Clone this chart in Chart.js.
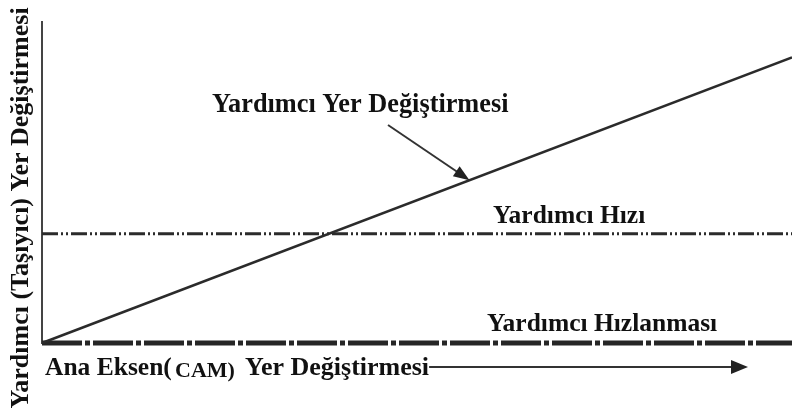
<!DOCTYPE html>
<html>
<head>
<meta charset="utf-8">
<script src="https://cdn.jsdelivr.net/npm/chart.js@4.4.0/dist/chart.umd.min.js"></script>
<style>
  body { margin: 0; background: #fff; }
  canvas { display: block; }
</style>
</head>
<body>
<canvas id="camChart" width="792" height="417"></canvas>
<script>
// cam position (x) and follower curves
const camPos = [0, 10];
const displacement = [0, 8.9];
const velocity = [3.4, 3.4];
const acceleration = [0, 0];

const labels = {
  disp: "Yardımcı Yer Değiştirmesi",
  vel: "Yardımcı Hızı",
  acc: "Yardımcı Hızlanması",
  yTitle: "Yardımcı (Taşıyıcı) Yer Değiştirmesi"
};

const pts = arr => camPos.map((x, i) => ({ x: x, y: arr[i] }));

const serif = size => "bold " + size + "px 'Liberation Serif', 'Times New Roman', serif";

// line with a filled head at (x2,y2)
function arrow(ctx, x1, y1, x2, y2, len, half) {
  const a = Math.atan2(y2 - y1, x2 - x1);
  const bx = x2 - len * Math.cos(a), by = y2 - len * Math.sin(a);
  ctx.beginPath();
  ctx.moveTo(x1, y1);
  ctx.lineTo(bx + 1 * Math.cos(a), by + 1 * Math.sin(a));
  ctx.stroke();
  ctx.beginPath();
  ctx.moveTo(x2, y2);
  ctx.lineTo(bx + half * Math.sin(a), by - half * Math.cos(a));
  ctx.lineTo(bx - half * Math.sin(a), by + half * Math.cos(a));
  ctx.closePath();
  ctx.fill();
}

/* texts + arrows */
const notes = {
  id: "notes",
  afterDraw(chart) {
    const ctx = chart.ctx;
    const xs = chart.scales.x, ys = chart.scales.y;
    ctx.save();
    ctx.fillStyle = "#111";
    ctx.strokeStyle = "#333";
    ctx.textBaseline = "alphabetic";
    ctx.textAlign = "left";

    ctx.font = serif(26.3);
    ctx.fillText(labels.disp, 212, 112);
    ctx.font = serif(25.5);
    ctx.fillText(labels.vel, 493, 223);
    ctx.fillText(labels.acc, 487, 331);

    // pointer to the displacement line
    const tx = 5.7;
    const tipX = xs.getPixelForValue(tx);
    const tipY = ys.getPixelForValue(displacement[0] + (displacement[1] - displacement[0]) * tx / camPos[1]);
    ctx.lineWidth = 2;
    ctx.fillStyle = "#222";
    arrow(ctx, 388, 125, tipX, tipY, 16, 6);

    // x axis label
    ctx.fillStyle = "#111";
    ctx.fillText("Ana Eksen(", 45, 375);
    ctx.font = serif(22);
    ctx.fillText("CAM)", 175, 377);
    ctx.font = serif(26);
    ctx.fillText("Yer Değiştirmesi", 245, 375);
    const endX = 245 + ctx.measureText("Yer Değiştirmesi").width;
    ctx.lineWidth = 2;
    ctx.fillStyle = "#222";
    arrow(ctx, endX, 367, 748, 367, 17, 7);

    // y axis title
    ctx.fillStyle = "#111";
    ctx.font = serif(26);
    ctx.translate(28, 208);
    ctx.rotate(-Math.PI / 2);
    ctx.textAlign = "center";
    ctx.fillText(labels.yTitle, 0, 0);
    ctx.restore();
  }
};

new Chart(document.getElementById("camChart"), {
  type: "line",
  data: {
    datasets: [
      {
        label: labels.disp,
        data: pts(displacement),
        borderColor: "#2b2b2b",
        borderWidth: 2.5,
        pointRadius: 0,
        clip: false
      },
      {
        label: labels.vel,
        data: pts(velocity),
        borderColor: "#2b2b2b",
        borderWidth: 3,
        borderDash: [16, 3, 2, 3, 2, 3],
        pointRadius: 0,
        clip: false
      },
      {
        label: labels.acc,
        data: pts(acceleration),
        borderColor: "#262626",
        borderWidth: 5,
        borderDash: [40, 3, 5, 3],
        pointRadius: 0,
        clip: false
      }
    ]
  },
  options: {
    responsive: false,
    animation: false,
    layout: { padding: { left: 42, top: 22, right: 0, bottom: 74 } },
    plugins: {
      legend: { display: false },
      tooltip: { enabled: false }
    },
    scales: {
      x: { type: "linear", min: 0, max: 10, display: false },
      y: {
        min: 0,
        max: 10,
        ticks: { display: false },
        grid: { display: false, drawTicks: false },
        border: { display: true, color: "#444", width: 2 },
        afterFit: s => { s.width = 0; }
      }
    }
  },
  plugins: [notes]
});
</script>
</body>
</html>
